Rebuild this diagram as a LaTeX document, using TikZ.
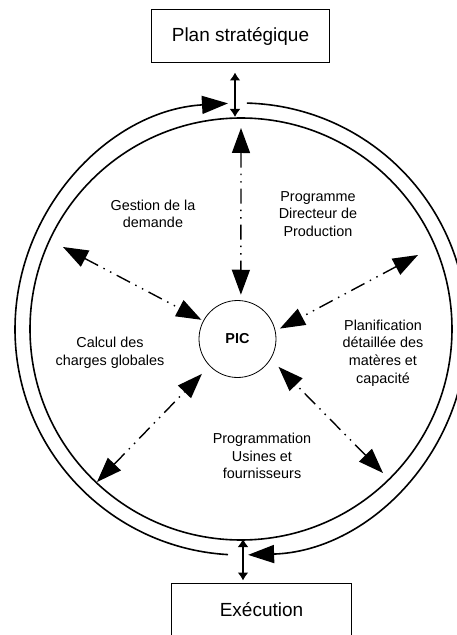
\documentclass[tikz,border=0pt]{standalone}
\usepackage{fontspec}
\setmainfont{Liberation Sans}
\usetikzlibrary{arrows.meta}

\begin{document}
\begin{tikzpicture}[x=1pt,y=1pt]
\tikzstyle{box}=[rectangle, draw=black, line width=1pt, font=\fontsize{19}{23}\selectfont]
\tikzstyle{lbl}=[align=center, font=\fontsize{14.4}{17.6}\selectfont]
\tikzstyle{ring}=[line width=1.6pt]
\tikzstyle{flow}=[{Triangle[length=25pt,width=18pt]}-{Triangle[length=25pt,width=18pt]}, line width=1.4pt, dash pattern=on 15pt off 6pt on 1.5pt off 6pt on 1.5pt off 6pt]
\tikzstyle{duo}=[{Latex[length=8pt,width=11pt]}-{Latex[length=8pt,width=11pt]}, line width=1.6pt]
\tikzstyle{loop}=[-{Triangle[length=26pt,width=18pt]}, ring]

\useasboundingbox (-241,-306) rectangle (216,329);

\node[box, minimum width=177, minimum height=53] at (-0.5,292.5) (plan) {Plan stratégique};
\node[box, minimum width=179, minimum height=52, anchor=north] at (20.5,-254) (exec) {Exécution};
\node[circle, draw, line width=0.8pt, minimum size=77, font=\fontsize{14.4}{17}\selectfont\bfseries] at (-3.5,-10) (pic) {PIC};

% the two rings
\draw[ring] (0,0) circle (211);
\draw[loop] (88.5:226) arc[start angle=88.5, end angle=-88.2, radius=226];
\draw[loop] (266.7:226) arc[start angle=266.7, end angle=93.3, radius=226];

\node[lbl] at (-88,115) (gestion) {Gestion de la\\demande};
\node[lbl] at (77,115) (directeur) {Programme\\Directeur de\\Production};
\node[lbl] at (-131,-24) (calcul) {Calcul des\\charges globales};
\node[lbl] at (142,-24) (planif) {Planification\\détaillée des\\matères et\\capacité};
\node[lbl] at (21,-127) (usines) {Programmation\\Usines et\\fournisseurs};

\coordinate (top) at (0,201);
\coordinate (gd) at (-178,82);
\coordinate (pdp) at (177,74);
\coordinate (cc) at (-144,-153);
\coordinate (pu) at (142,-144);
\coordinate (ctop) at (-6,212);
\coordinate (cbot) at (2,-210);

\draw[flow, shorten >=5.5pt] (top) -- (pic.85);
\draw[flow, shorten >=2pt] (gd) -- (pic.152);
\draw[flow, shorten >=5pt] (pdp) -- (pic.12);
\draw[flow, shorten >=11pt] (cc) -- (pic.224);
\draw[flow, shorten >=11pt] (pu) -- (pic.329);

\draw[duo, shorten <=9pt] (plan.south -| ctop) -- (ctop);
\draw[duo, shorten >=2.5pt] (cbot) -- (exec.north -| cbot);
\end{tikzpicture}
\end{document}
